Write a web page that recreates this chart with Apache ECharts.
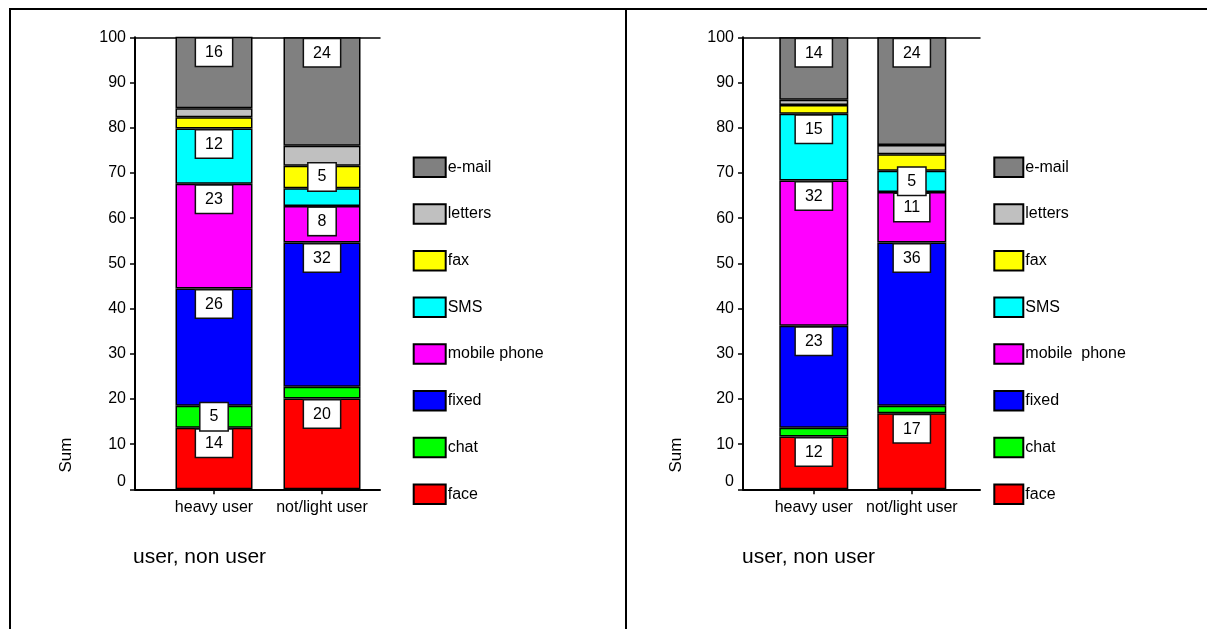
<!DOCTYPE html>
<html>
<head>
<meta charset="utf-8">
<script src="https://cdn.jsdelivr.net/npm/echarts@6/dist/echarts.min.js"></script>
<style>
  html, body { margin: 0; padding: 0; background: #fff; }
  #chart { width: 1207px; height: 629px; }
</style>
</head>
<body>
<div id="chart"></div>
<script>
// Communication channels by user group, two panels (stacked shares, sum = 100)
const categories = ['heavy user', 'not/light user'];
const yTicks = [0, 100, 10]; // min, max, step

// stacking order, bottom to top
const channelsLeft  = ['face', 'chat', 'fixed', 'mobile phone', 'SMS', 'fax', 'letters', 'e-mail'];
const channelsRight = ['face', 'chat', 'fixed', 'mobile  phone', 'SMS', 'fax', 'letters', 'e-mail'];
const channelColors = ['#ff0000', '#00ff00', '#0000ff', '#ff00ff', '#00ffff', '#ffff00', '#c0c0c0', '#808080'];

// left panel: [heavy user, not/light user]
const leftFace    = [13.6, 20.1];
const leftChat    = [4.9, 2.6];
const leftFixed   = [25.9, 31.9];
const leftMobile  = [23.2, 8.1];
const leftSMS     = [12.2, 3.9];
const leftFax     = [2.5, 5.0];
const leftLetters = [2.0, 4.4];
const leftEmail   = [15.8, 24.0];

// right panel: [heavy user, not/light user]
const rightFace    = [11.7, 16.8];
const rightChat    = [1.9, 1.7];
const rightFixed   = [22.6, 36.1];
const rightMobile  = [32.1, 11.2];
const rightSMS     = [14.8, 4.7];
const rightFax     = [1.9, 3.6];
const rightLetters = [1.2, 2.1];
const rightEmail   = [13.8, 23.8];

const xTitle = 'user, non user';
const yTitle = 'Sum';

const FONT = 'Liberation Sans, Arial, sans-serif';
const PLOT_TOP = 37.3;
const PLOT_H = 452;
const PX_PER_UNIT = PLOT_H / (yTicks[1] - yTicks[0]);

const leftValues  = [leftFace, leftChat, leftFixed, leftMobile, leftSMS, leftFax, leftLetters, leftEmail];
const rightValues = [rightFace, rightChat, rightFixed, rightMobile, rightSMS, rightFax, rightLetters, rightEmail];

function segData(vals) {
  return vals.map(v => ({
    value: v,
    label: {
      show: Math.round(v) >= 5,
      position: v * PX_PER_UNIT < 30 ? 'inside' : 'insideTop',
      distance: 2
    }
  }));
}

function makeSeries(names, values, xIdx, yIdx, stack, barWidth) {
  return names.map((name, i) => ({
    type: 'bar',
    name: name,
    stack: stack,
    xAxisIndex: xIdx,
    yAxisIndex: yIdx,
    barWidth: barWidth,
    data: segData(values[i]),
    itemStyle: { color: channelColors[i], borderColor: '#000', borderWidth: 1.5 },
    label: {
      formatter: p => String(Math.round(p.value)),
      color: '#000',
      fontFamily: FONT,
      fontSize: 16,
      lineHeight: 16,
      backgroundColor: '#fff',
      borderColor: '#111',
      borderWidth: 1.5,
      padding: [6, 9, 5, 9]
    },
    emphasis: { disabled: true }
  }));
}

function frameAxes(gridIdx) {
  return [
    { gridIndex: gridIdx, type: 'value', min: 0, max: 1, position: 'bottom',
      axisLine: { show: true, lineStyle: { color: '#000', width: 2 } },
      axisTick: { show: false }, axisLabel: { show: false }, splitLine: { show: false } },
    { gridIndex: gridIdx, type: 'value', min: 0, max: 1, position: 'top',
      axisLine: { show: true, lineStyle: { color: '#000', width: 1.5 } },
      axisTick: { show: false }, axisLabel: { show: false }, splitLine: { show: false } }
  ];
}

function catAxis(gridIdx) {
  return {
    gridIndex: gridIdx, type: 'category', data: categories, position: 'bottom',
    axisLine: { show: false },
    axisTick: { show: true, alignWithLabel: true, length: 5, lineStyle: { color: '#000', width: 1.5 } },
    axisLabel: { color: '#000', fontFamily: FONT, fontSize: 16, margin: 10, interval: 0, hideOverlap: false },
    splitLine: { show: false }
  };
}

function valueAxis(gridIdx, visible) {
  return {
    gridIndex: gridIdx, type: 'value', min: yTicks[0], max: yTicks[1], interval: yTicks[2],
    show: visible,
    axisLine: { show: true, lineStyle: { color: '#000', width: 2 } },
    axisTick: { show: true, length: 5, lineStyle: { color: '#000', width: 1.5 } },
    axisLabel: { color: '#000', fontFamily: FONT, fontSize: 16, margin: 9, verticalAlignMinLabel: 'bottom' },
    splitLine: { show: false }
  };
}

function legendFor(names, left, iconW) {
  return {
    left: left, top: 156.5, orient: 'vertical', padding: 0,
    itemWidth: iconW, itemHeight: 19.5, itemGap: 25.2,
    icon: 'rect',
    selectedMode: false,
    data: names.slice().reverse(),
    textStyle: { color: '#000', fontFamily: FONT, fontSize: 16, padding: [0, 0, 0, -3] }
  };
}

const chart = echarts.init(document.getElementById('chart'), null, { renderer: 'canvas' });

chart.setOption({
  animation: false,
  backgroundColor: '#fff',
  grid: [
    { left: 135, top: PLOT_TOP, width: 245, height: PLOT_H },
    { left: 160, top: PLOT_TOP, width: 216, height: PLOT_H },
    { left: 743, top: PLOT_TOP, width: 237, height: PLOT_H },
    { left: 764.8, top: PLOT_TOP, width: 196, height: PLOT_H }
  ],
  xAxis: [
    ...frameAxes(0),   // 0, 1
    catAxis(1),        // 2
    ...frameAxes(2),   // 3, 4
    catAxis(3)         // 5
  ],
  yAxis: [
    valueAxis(0, true),
    valueAxis(1, false),
    valueAxis(2, true),
    valueAxis(3, false)
  ],
  legend: [
    legendFor(channelsLeft, 412.7, 32),
    legendFor(channelsRight, 993.3, 29)
  ],
  series: [
    ...makeSeries(channelsLeft, leftValues, 2, 1, 'left', 77),
    ...makeSeries(channelsRight, rightValues, 5, 3, 'right', 69)
  ],
  graphic: [
    // panel frame
    { type: 'rect', shape: { x: 9, y: 8, width: 1198, height: 2 }, style: { fill: '#000' } },
    { type: 'rect', shape: { x: 9, y: 8, width: 2, height: 621 }, style: { fill: '#000' } },
    { type: 'rect', shape: { x: 625, y: 8, width: 2, height: 621 }, style: { fill: '#000' } },
    // axis titles
    { type: 'text', x: 66, y: 455, rotation: Math.PI / 2,
      style: { text: yTitle, fill: '#000', font: '17px ' + FONT, align: 'center', verticalAlign: 'middle' } },
    { type: 'text', x: 676, y: 455, rotation: Math.PI / 2,
      style: { text: yTitle, fill: '#000', font: '17px ' + FONT, align: 'center', verticalAlign: 'middle' } },
    { type: 'text', x: 133, y: 557,
      style: { text: xTitle, fill: '#000', font: '21px ' + FONT, align: 'left', verticalAlign: 'middle' } },
    { type: 'text', x: 742, y: 557,
      style: { text: xTitle, fill: '#000', font: '21px ' + FONT, align: 'left', verticalAlign: 'middle' } }
  ]
});
</script>
</body>
</html>
